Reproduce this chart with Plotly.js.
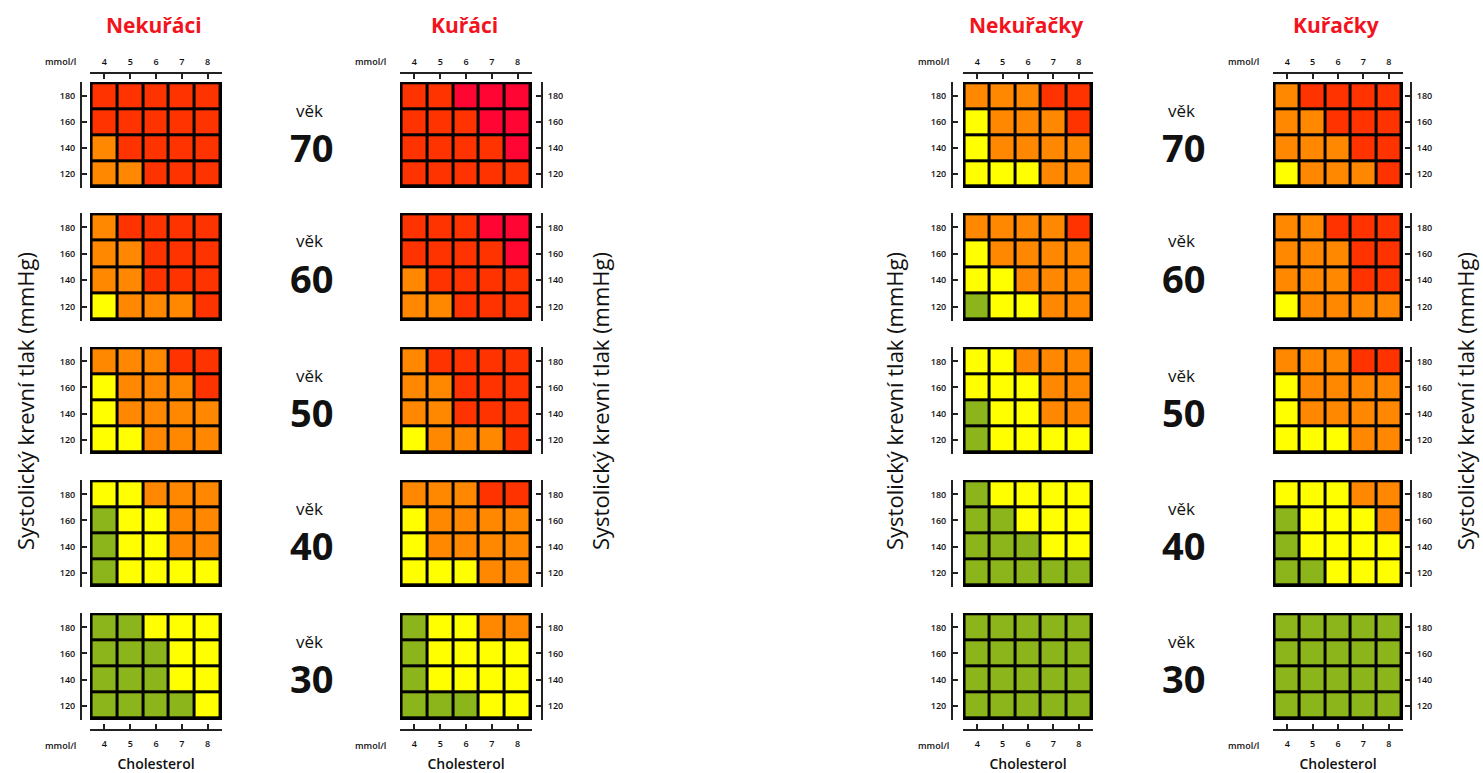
<!DOCTYPE html>
<html>
<head>
<meta charset="utf-8">
<script src="https://cdn.plot.ly/plotly-3.0.1.min.js"></script>
<style>html,body{margin:0;padding:0;background:#fff;}#chart{width:1483px;height:773px;}</style>
</head>
<body>
<div id="chart"></div>
<script>
// ---- data ----
const groupNames = ['Nekuřáci', 'Kuřáci', 'Nekuřačky', 'Kuřačky'];
const ages = [70, 60, 50, 40, 30];
const cholesterol = [4, 5, 6, 7, 8];
const pressure = [180, 160, 140, 120];           // rows top -> bottom
// risk level: 0 green, 1 yellow, 2 orange, 3 red, 4 crimson
const riskNekuraci = [
  [[3,3,3,3,3],[3,3,3,3,3],[2,3,3,3,3],[2,2,3,3,3]],
  [[2,3,3,3,3],[2,2,3,3,3],[2,2,3,3,3],[1,2,2,2,3]],
  [[2,2,2,3,3],[1,2,2,2,3],[1,2,2,2,2],[1,1,2,2,2]],
  [[1,1,2,2,2],[0,1,1,2,2],[0,1,1,2,2],[0,1,1,1,1]],
  [[0,0,1,1,1],[0,0,0,1,1],[0,0,0,1,1],[0,0,0,0,1]]
];
const riskKuraci = [
  [[3,3,4,4,4],[3,3,3,4,4],[3,3,3,3,4],[3,3,3,3,3]],
  [[3,3,3,4,4],[3,3,3,3,4],[2,3,3,3,3],[2,2,3,3,3]],
  [[2,3,3,3,3],[2,2,3,3,3],[2,2,3,3,3],[1,2,2,2,3]],
  [[2,2,2,3,3],[1,2,2,2,2],[1,2,2,2,2],[1,1,1,2,2]],
  [[0,1,1,2,2],[0,1,1,1,1],[0,1,1,1,1],[0,0,0,1,1]]
];
const riskNekuracky = [
  [[2,2,2,3,3],[1,2,2,2,3],[1,2,2,2,2],[1,1,1,2,2]],
  [[2,2,2,2,3],[1,2,2,2,2],[1,1,2,2,2],[0,1,1,2,2]],
  [[1,1,2,2,2],[1,1,1,2,2],[0,1,1,2,2],[0,1,1,1,1]],
  [[0,1,1,1,1],[0,0,1,1,1],[0,0,0,1,1],[0,0,0,0,0]],
  [[0,0,0,0,0],[0,0,0,0,0],[0,0,0,0,0],[0,0,0,0,0]]
];
const riskKuracky = [
  [[2,3,3,3,3],[2,2,3,3,3],[2,2,2,3,3],[1,2,2,2,3]],
  [[2,2,3,3,3],[2,2,2,3,3],[2,2,2,3,3],[1,2,2,2,2]],
  [[2,2,2,3,3],[1,2,2,2,2],[1,2,2,2,2],[1,1,1,2,2]],
  [[1,1,1,2,2],[0,1,1,1,2],[0,1,1,1,1],[0,0,1,1,1]],
  [[0,0,0,0,0],[0,0,0,0,0],[0,0,0,0,0],[0,0,0,0,0]]
];
const riskData = [riskNekuraci, riskKuraci, riskNekuracky, riskKuracky];
const levelColors = ['#8cb51c', '#ffff00', '#ff8800', '#ff3300', '#ff0533'];

// ---- layout geometry (pixels) ----
const W = 1483, H = 773;
const colX = [[90,222],[400,532],[963,1093],[1273,1403]];
const rowY = [[82,188],[213,321],[347,454],[480,587],[613,720]];
const yLineX = [81, 542, 952, 1411];
const ySide = ['left','right','left','right'];
const topLineY = 73, bottomLineY = 730;
const fx = px => px / W, fy = py => 1 - py / H;

const colorscale = levelColors.map((c, i) => [i / (levelColors.length - 1), c]);
const tickFont = {family: 'Open Sans, sans-serif', size: 9, color: '#111', weight: 600};

function note(px, py, text, font, extra) {
  return Object.assign({
    xref: 'paper', yref: 'paper', x: fx(px), y: fy(py),
    xanchor: 'center', yanchor: 'middle', borderpad: 0,
    text: text, showarrow: false, font: font
  }, extra || {});
}

const traces = [];
const layout = {
  width: W, height: H,
  margin: {l: 0, r: 0, t: 0, b: 0},
  paper_bgcolor: '#ffffff',
  plot_bgcolor: '#000000',
  showlegend: false,
  annotations: []
};

for (let g = 0; g < 4; g++) {
  for (let a = 0; a < ages.length; a++) {
    const idx = g * ages.length + a + 1;
    traces.push({
      type: 'heatmap',
      x: cholesterol, y: pressure, z: riskData[g][a],
      zmin: 0, zmax: 4, colorscale: colorscale, showscale: false,
      xgap: 3, ygap: 3,
      xaxis: 'x' + idx, yaxis: 'y' + idx,
      hovertemplate: groupNames[g] + ', věk ' + ages[a] + '<br>cholesterol %{x} mmol/l<br>tlak %{y} mmHg<extra></extra>'
    });
    const xa = {
      domain: [fx(colX[g][0]), fx(colX[g][1])],
      range: [3.44, 8.56], showgrid: false, zeroline: false, fixedrange: true
    };
    if (a === 0 || a === ages.length - 1) {
      Object.assign(xa, {
        anchor: 'free', side: a === 0 ? 'top' : 'bottom',
        position: a === 0 ? fy(topLineY) : fy(bottomLineY),
        showline: true, linecolor: '#222', linewidth: 2,
        ticks: 'inside', ticklen: 5, tickwidth: 2, tickcolor: '#222',
        tickvals: cholesterol, tickfont: tickFont,
        ticklabelstandoff: a === 0 ? 3 : 5
      });
      if (a === ages.length - 1) {
        xa.title = {text: 'Cholesterol', font: {family: 'Open Sans, sans-serif', size: 14, color: '#111', weight: 600}, standoff: 9};
      }
    } else {
      xa.visible = false;
      xa.anchor = 'y' + idx;
    }
    layout['xaxis' + idx] = xa;
    layout['yaxis' + idx] = {
      domain: [fy(rowY[a][1]), fy(rowY[a][0])],
      range: [109, 191], anchor: 'free', position: fx(yLineX[g]), side: ySide[g],
      showgrid: false, zeroline: false, fixedrange: true,
      showline: true, linecolor: '#222', linewidth: 2,
      ticks: 'inside', ticklen: 5, tickwidth: 2, tickcolor: '#222',
      tickvals: [120, 140, 160, 180], tickfont: tickFont, ticklabelstandoff: 3
    };
  }
  // group titles
  layout.annotations.push(note((colX[g][0] + colX[g][1]) / 2 - 2, 25, '<b>' + groupNames[g] + '</b>',
    {family: 'Open Sans, sans-serif', size: 21, color: '#f2131d'}));
  // mmol/l labels
  [62, 745].forEach(py => layout.annotations.push(note(colX[g][0] - 30, py, 'mmol/l', tickFont)));
}

// y-axis titles
const yTitleX = [25, 600, 894, 1465];
yTitleX.forEach(px => layout.annotations.push(note(px, 401, 'Systolický krevní tlak (mmHg)',
  {family: 'Open Sans, sans-serif', size: 22, color: '#111'}, {textangle: -90})));

// age labels
const ageLabelX = [311, 1183];
ageLabelX.forEach(px => {
  ages.forEach((age, a) => {
    const top = rowY[a][0];
    layout.annotations.push(note(px - 2, top + 28, 'věk',
      {family: 'Open Sans, sans-serif', size: 17, color: '#111'}));
    layout.annotations.push(note(px, top + 65, '<b>' + age + '</b>',
      {family: 'Open Sans, sans-serif', size: 38, color: '#111'}));
  });
});

Plotly.newPlot('chart', traces, layout, {displayModeBar: false});
</script>
</body>
</html>
